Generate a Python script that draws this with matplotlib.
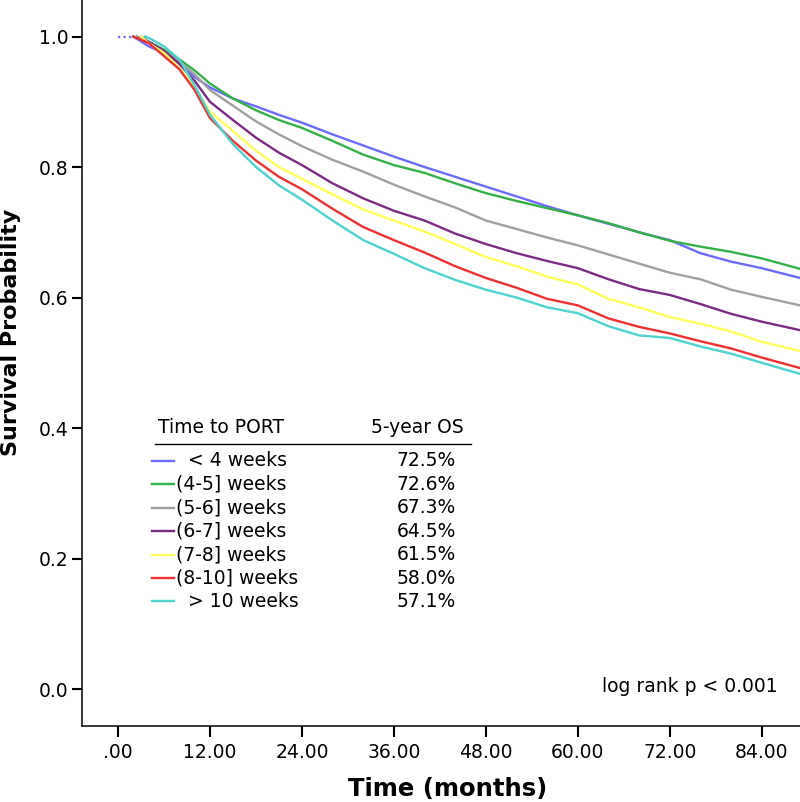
import matplotlib
matplotlib.use("Agg")
import matplotlib.pyplot as plt

# ---------------- data ----------------
groups = ["  < 4 weeks", "(4-5] weeks", "(5-6] weeks", "(6-7] weeks",
          "(7-8] weeks", "(8-10] weeks", "  > 10 weeks"]
os5 = ["72.5%", "72.6%", "67.3%", "64.5%", "61.5%", "58.0%", "57.1%"]
colors = ["#6b6bff", "#33b048", "#a0a0a0", "#7d2a85", "#ffff5a", "#ee3030", "#4dd2cf"]

months = [4, 6, 8, 10, 12, 15, 18, 21, 24, 28, 32, 36, 40, 44, 48, 52, 56,
          60, 64, 68, 72, 76, 80, 84, 89]
start_month = [2.0, 2.5, 2.5, 3.0, 3.0, 2.0, 3.5]

surv_lt4 = [0.985, 0.975, 0.960, 0.938, 0.922, 0.905, 0.893, 0.880, 0.868, 0.850,
            0.833, 0.816, 0.800, 0.785, 0.770, 0.755, 0.740, 0.726, 0.713, 0.700,
            0.688, 0.668, 0.655, 0.645, 0.630]
surv_4_5 = [0.992, 0.980, 0.965, 0.948, 0.928, 0.905, 0.887, 0.872, 0.860, 0.840,
            0.819, 0.803, 0.791, 0.775, 0.760, 0.748, 0.737, 0.726, 0.714, 0.700,
            0.687, 0.678, 0.670, 0.660, 0.644]
surv_5_6 = [0.990, 0.978, 0.962, 0.942, 0.918, 0.894, 0.870, 0.850, 0.832, 0.811,
            0.793, 0.773, 0.755, 0.738, 0.718, 0.705, 0.692, 0.680, 0.666, 0.652,
            0.638, 0.628, 0.612, 0.601, 0.588]
surv_6_7 = [0.992, 0.978, 0.958, 0.932, 0.900, 0.872, 0.845, 0.822, 0.803, 0.775,
            0.752, 0.733, 0.718, 0.698, 0.682, 0.668, 0.656, 0.645, 0.628, 0.613,
            0.604, 0.590, 0.575, 0.563, 0.550]
surv_7_8 = [0.990, 0.975, 0.952, 0.922, 0.885, 0.855, 0.825, 0.800, 0.782, 0.758,
            0.735, 0.718, 0.701, 0.682, 0.662, 0.648, 0.632, 0.620, 0.598, 0.585,
            0.570, 0.560, 0.548, 0.532, 0.518]
surv_8_10 = [0.990, 0.970, 0.950, 0.918, 0.875, 0.840, 0.810, 0.785, 0.766, 0.736,
             0.708, 0.688, 0.669, 0.648, 0.630, 0.615, 0.598, 0.588, 0.568, 0.555,
             0.545, 0.533, 0.522, 0.508, 0.492]
surv_gt10 = [0.998, 0.985, 0.965, 0.925, 0.880, 0.835, 0.800, 0.772, 0.750, 0.718,
             0.688, 0.667, 0.645, 0.627, 0.612, 0.600, 0.585, 0.576, 0.556, 0.542,
             0.538, 0.525, 0.514, 0.500, 0.483]
series = [surv_lt4, surv_4_5, surv_5_6, surv_6_7, surv_7_8, surv_8_10, surv_gt10]

xticks = [0, 12, 24, 36, 48, 60, 72, 84]
xticklabels = [".00", "12.00", "24.00", "36.00", "48.00", "60.00", "72.00", "84.00"]
yticks = [0.0, 0.2, 0.4, 0.6, 0.8, 1.0]
yticklabels = ["0.0", "0.2", "0.4", "0.6", "0.8", "1.0"]

# ---------------- figure ----------------
W, H = 800, 802
fig = plt.figure(figsize=(W / 100, H / 100), dpi=100)
ax = fig.add_axes([82 / W, 1 - 726 / H, (W - 82) / W, 726 / H])

def fx(px):
    return px / W

def fy(py):
    return 1 - py / H

# dotted start of first group (censor marks before first event)
ax.plot([0, start_month[0]], [1.0, 1.0], color=colors[0], lw=1.6, ls=(0, (1, 1.5)))
for s, c, st in zip(series, colors, start_month):
    ax.plot([st] + months, [1.0] + s, color=c, lw=1.7, solid_joinstyle="round")

ax.set_xlim(-4.7, 89.0)
ax.set_ylim(-0.0567, 1.056)
for sp in ["top", "right"]:
    ax.spines[sp].set_visible(False)
for sp in ["left", "bottom"]:
    ax.spines[sp].set_linewidth(1.1)

ax.set_xticks(xticks)
ax.set_xticklabels(xticklabels, fontsize=13.5, family="DejaVu Sans")
ax.set_yticks(yticks)
ax.set_yticklabels(yticklabels, fontsize=13.5, family="DejaVu Sans")
ax.tick_params(axis="x", direction="out", length=8, width=1.5, pad=4)
ax.tick_params(axis="y", direction="out", length=7.5, width=1.5, pad=2)

fig.text(fx(11), fy(332), "Survival Probability", rotation=90, ha="center",
         va="center", fontsize=16, fontweight="bold", family="DejaVu Sans")
fig.text(fx(448), fy(789), "Time (months)", ha="center", va="center",
         fontsize=17.5, fontweight="bold", family="DejaVu Sans")

# legend table
fs = 13.5
fig.text(fx(158), fy(428), "Time to PORT", ha="left", va="center", fontsize=fs)
fig.text(fx(464), fy(428), "5-year OS", ha="right", va="center", fontsize=fs)
ax.plot([fx(155), fx(471)], [fy(444), fy(444)], color="black", lw=1.0,
        transform=fig.transFigure, clip_on=False)
row0, step = 461, 23.4
for i, (g, v, c) in enumerate(zip(groups, os5, colors)):
    yy = row0 + i * step
    ax.plot([fx(152), fx(174)], [fy(yy), fy(yy)], color=c, lw=1.7,
            transform=fig.transFigure, clip_on=False)
    fig.text(fx(176), fy(yy), g, ha="left", va="center", fontsize=fs)
    fig.text(fx(456), fy(yy), v, ha="right", va="center", fontsize=fs)

fig.text(fx(778), fy(686), "log rank p < 0.001", ha="right", va="center", fontsize=fs)

fig.savefig("out.png", dpi=100)
